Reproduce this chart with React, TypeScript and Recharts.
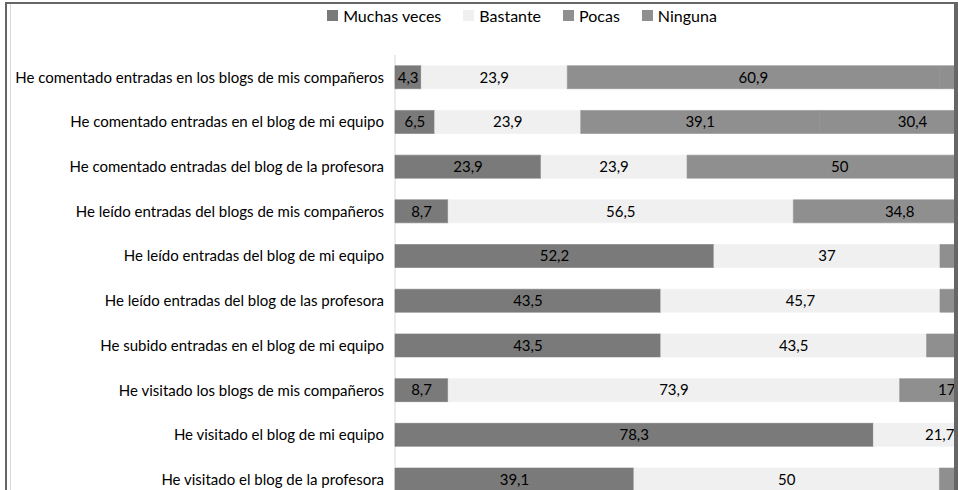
import { BarChart, Bar, XAxis, YAxis, CartesianGrid, Legend, LabelList } from "recharts";

const categories = [
  "He comentado entradas en los blogs de mis compañeros",
  "He comentado entradas en el blog de mi equipo",
  "He comentado entradas del blog de la profesora",
  "He leído entradas del blogs de mis compañeros",
  "He leído entradas del blog de mi equipo",
  "He leído entradas del blog de las profesora",
  "He subido entradas en el blog de mi equipo",
  "He visitado los blogs de mis compañeros",
  "He visitado el blog de mi equipo",
  "He visitado el blog de la profesora",
];

const muchas = [4.3, 6.5, 23.9, 8.7, 52.2, 43.5, 43.5, 8.7, 78.3, 39.1];
const bastante = [23.9, 23.9, 23.9, 56.5, 37, 45.7, 43.5, 73.9, 21.7, 50];
const pocas = [60.9, 39.1, 50, 34.8, 10.8, 10.8, 13, 17.4, 0, 10.9];
const ninguna = [10.9, 30.4, 2.2, 0, 0, 0, 0, 0, 0, 0];

const xTicks = [0, 10, 20, 30, 40, 50, 60, 70, 80, 90, 100];

const series = [
  { key: "muchas", label: "Muchas veces", color: "#7a7a7a" },
  { key: "bastante", label: "Bastante", color: "#f0f0f0" },
  { key: "pocas", label: "Pocas", color: "#8f8f8f" },
  { key: "ninguna", label: "Ninguna", color: "#8f8f8f" },
];

const data = categories.map((name, i) => ({
  name,
  muchas: muchas[i],
  bastante: bastante[i],
  pocas: pocas[i],
  ninguna: ninguna[i],
}));

const FONT = "Lato, 'Noto Sans', sans-serif";

const fmt = (v: unknown) => {
  const n = Number(v);
  if (!n) return "";
  return String(n).replace(".", ",");
};

function LegendContent() {
  return (
    <div style={{ display: "flex", justifyContent: "center", alignItems: "center", gap: 22 }}>
      {series.map((s) => (
        <div key={s.key} style={{ display: "flex", alignItems: "center", fontSize: 16, color: "#000" }}>
          <span style={{ width: 11, height: 11, background: s.color, display: "inline-block", marginRight: 5 }} />
          {s.label}
        </div>
      ))}
    </div>
  );
}

export default function App() {
  return (
    <div
      style={{
        position: "fixed",
        left: 0,
        top: 0,
        width: 958,
        height: 490,
        overflow: "hidden",
        background: "#fff",
        fontFamily: FONT,
      }}
    >
      <BarChart
        width={1040}
        height={540}
        data={data}
        layout="vertical"
        barCategoryGap="24%"
        margin={{ top: 15, right: 34, left: 0, bottom: 8 }}
      >
        <CartesianGrid horizontal={false} stroke="#d9d9d9" />
        <XAxis
          type="number"
          domain={[0, 100]}
          ticks={xTicks}
          height={30}
          tick={false}
          axisLine={false}
          tickLine={false}
        />
        <YAxis
          type="category"
          dataKey="name"
          width={395}
          interval={0}
          tickSize={0}
          tickMargin={11}
          axisLine={false}
          tickLine={false}
          tick={{ fill: "#000", fontSize: 15, fontFamily: FONT }}
        />
        <Legend
          verticalAlign="top"
          content={<LegendContent />}
          wrapperStyle={{ top: 6, left: 302, width: 440, height: 40 }}
        />
        {series.map((s) => (
          <Bar
            key={s.key}
            dataKey={s.key}
            name={s.label}
            stackId="a"
            fill={s.color}
            stroke={s.color}
            strokeWidth={0.6}
            isAnimationActive={false}
          >
            <LabelList
              dataKey={s.key}
              position="center"
              formatter={fmt}
              fill="#000"
              fontSize={15}
              fontFamily={FONT}
            />
          </Bar>
        ))}
      </BarChart>
      <div
        style={{
          position: "absolute",
          left: 5,
          top: 2,
          width: 953,
          height: 520,
          boxSizing: "border-box",
          borderTop: "2px solid #666",
          borderLeft: "2px solid #666",
          borderRight: "4px solid #666",
          pointerEvents: "none",
        }}
      />
      <div
        style={{
          position: "absolute",
          left: 10,
          top: 4,
          width: 1,
          height: 500,
          background: "#d9d9d9",
          pointerEvents: "none",
        }}
      />
    </div>
  );
}
